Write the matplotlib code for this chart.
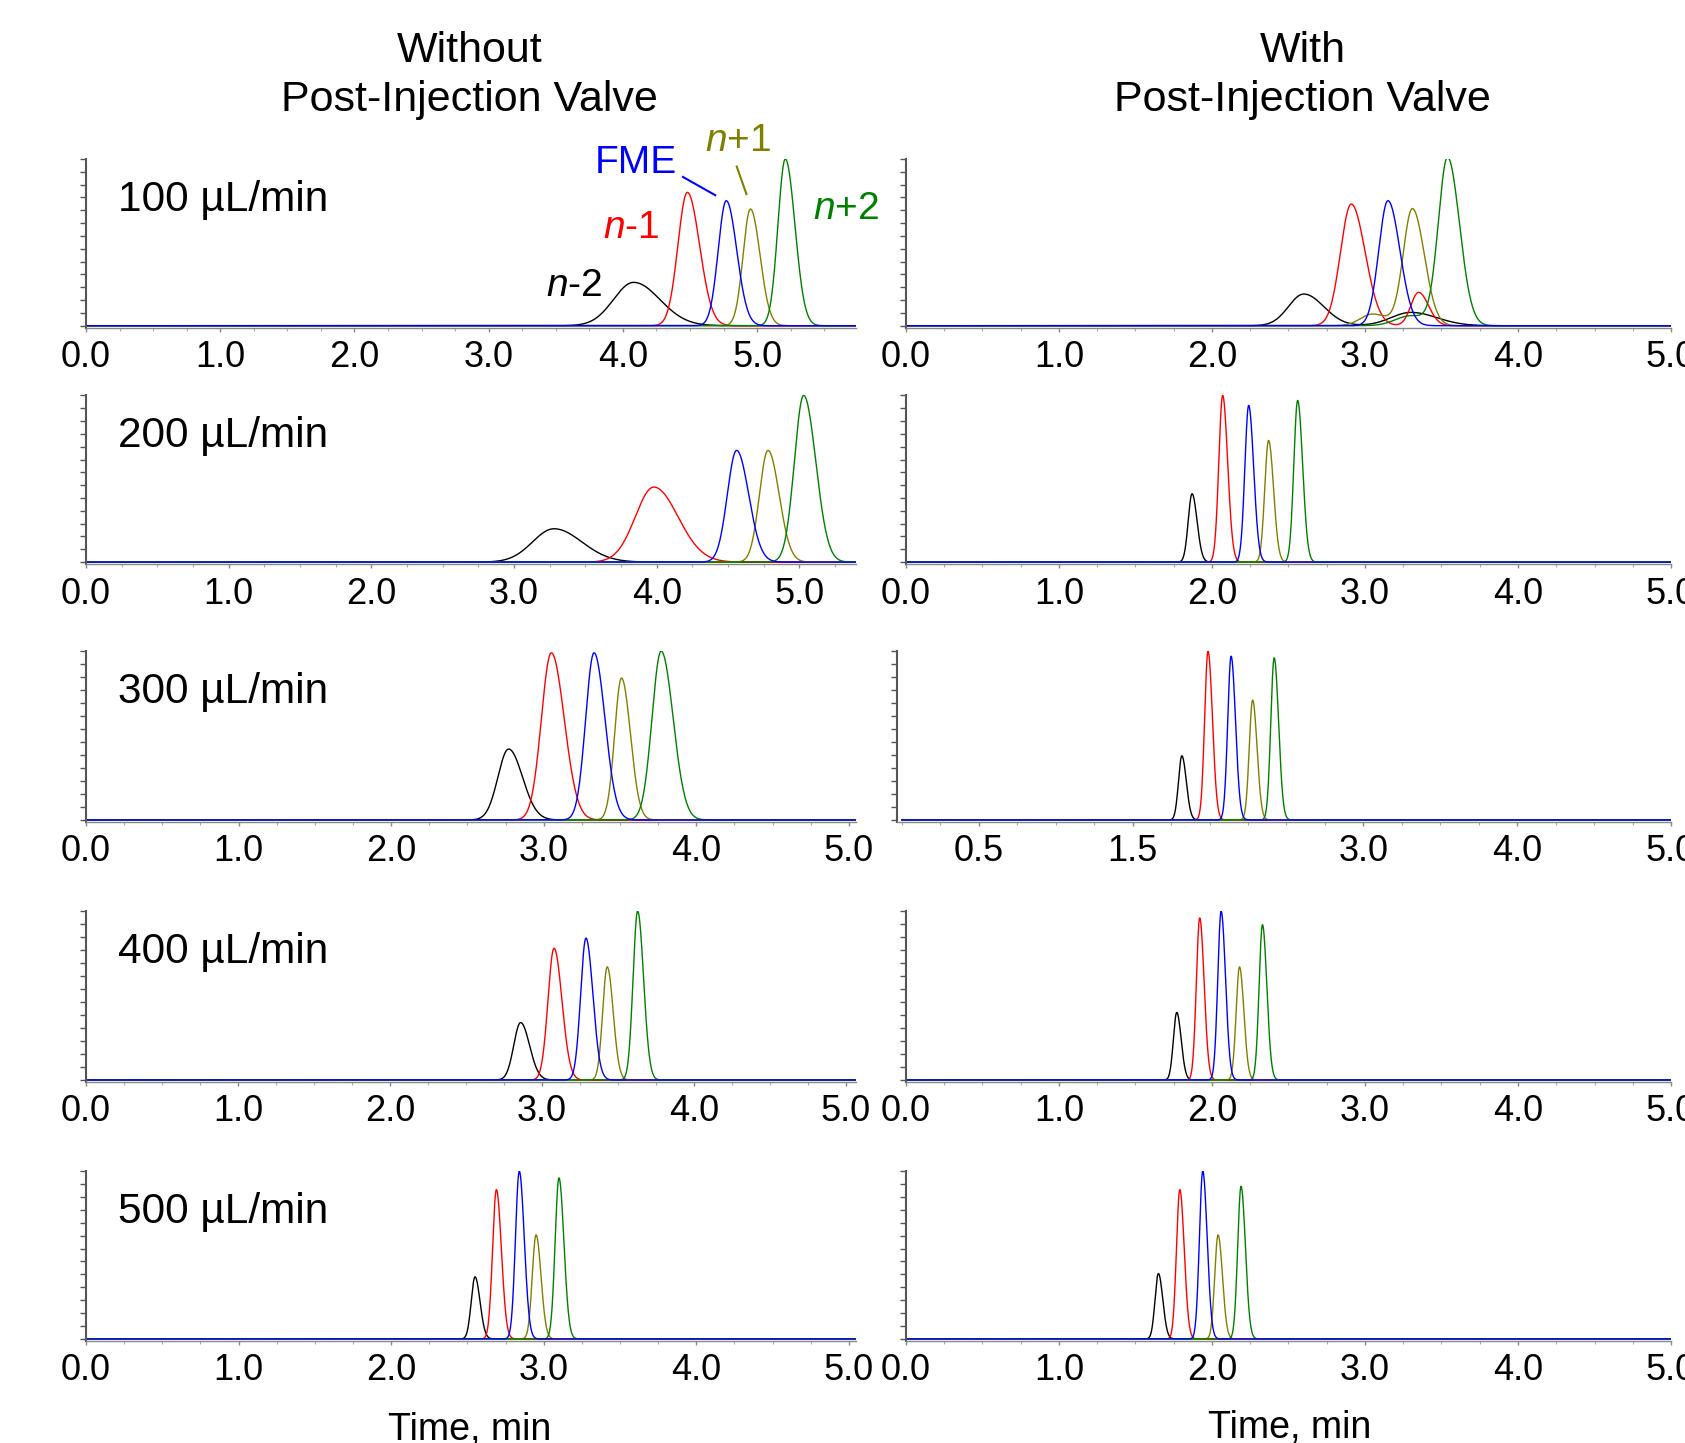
import numpy as np
import matplotlib
matplotlib.use("Agg")
import matplotlib.pyplot as plt

plt.rcParams['font.family'] = ['Liberation Sans', 'DejaVu Sans']
plt.rcParams['mathtext.fontset'] = 'custom'
plt.rcParams['mathtext.rm'] = 'Liberation Sans'
plt.rcParams['mathtext.it'] = 'Liberation Sans:italic'

# species: n-2, n-1, FME, n+1, n+2
colors = ["black", "#ff0000", "#0000ff", "#808000", "#008000"]
draw_order = [0, 1, 3, 4, 2]
flow_labels = ["100 µL/min", "200 µL/min", "300 µL/min", "400 µL/min", "500 µL/min"]

# peak apex time (min), apex height (fraction of full scale), peak sigma (min)
centers_without = [[4.08, 4.48, 4.77, 4.95, 5.21],
                   [3.28, 3.98, 4.56, 4.78, 5.03],
                   [2.77, 3.05, 3.33, 3.51, 3.77],
                   [2.86, 3.08, 3.29, 3.43, 3.63],
                   [2.55, 2.69, 2.84, 2.95, 3.10]]
heights_without = [[0.26, 0.80, 0.75, 0.70, 1.00],
                   [0.20, 0.45, 0.67, 0.67, 1.00],
                   [0.42, 0.99, 0.99, 0.84, 1.00],
                   [0.34, 0.78, 0.84, 0.67, 1.00],
                   [0.37, 0.89, 1.00, 0.62, 0.96]]
widths_without = [[0.15, 0.07, 0.06, 0.055, 0.055],
                  [0.15, 0.13, 0.065, 0.06, 0.065],
                  [0.07, 0.065, 0.055, 0.045, 0.06],
                  [0.045, 0.04, 0.035, 0.03, 0.03],
                  [0.025, 0.025, 0.025, 0.025, 0.025]]

centers_with = [[2.60, 2.91, 3.15, 3.31, 3.54],
                [1.87, 2.07, 2.24, 2.37, 2.56],
                [1.82, 1.99, 2.14, 2.28, 2.42],
                [1.77, 1.92, 2.06, 2.18, 2.33],
                [1.65, 1.79, 1.94, 2.04, 2.19]]
heights_with = [[0.19, 0.73, 0.75, 0.70, 1.00],
                [0.41, 1.00, 0.94, 0.73, 0.97],
                [0.38, 1.00, 0.97, 0.71, 0.96],
                [0.40, 0.96, 1.00, 0.67, 0.92],
                [0.39, 0.89, 1.00, 0.62, 0.91]]
widths_with = [[0.10, 0.07, 0.06, 0.06, 0.06],
               [0.025, 0.025, 0.025, 0.025, 0.025],
               [0.022, 0.022, 0.022, 0.022, 0.022],
               [0.022, 0.022, 0.022, 0.022, 0.022],
               [0.022, 0.022, 0.022, 0.022, 0.022]]

# small secondary humps in the 100 µL/min run with the valve (species, time, height, sigma)
extra_with_100 = [(0, 3.30, 0.08, 0.13), (1, 3.35, 0.20, 0.05), (3, 3.05, 0.07, 0.08),
                  (4, 3.30, 0.06, 0.10)]

xmax_without = [5.74, 5.40, 5.05, 5.07, 5.05]
ticks_without = [0.0, 1.0, 2.0, 3.0, 4.0, 5.0]
ticks_with = [0.0, 1.0, 2.0, 3.0, 4.0, 5.0]
ticks_with_300 = [0.5, 1.5, 3.0, 4.0, 5.0]

fig = plt.figure(figsize=(16.85, 14.43), dpi=100)
W, H = 1568.0, 1343.0
row_px = [(148, 305), (368, 525), (606, 765), (848, 1007), (1090, 1248)]


def peak(t, c, h, s):
    # slightly tailed gaussian
    sig = np.where(t < c, s, s * 1.3)
    return h * np.exp(-0.5 * ((t - c) / sig) ** 2)


def style(ax, xmin, xmax, ticks, labels):
    ax.set_xlim(xmin, xmax)
    ax.set_ylim(-0.012, 1.0)
    for s in ["top", "right"]:
        ax.spines[s].set_visible(False)
    ax.spines["left"].set_color("#555555")
    ax.spines["left"].set_linewidth(1.5)
    ax.spines["bottom"].set_color("#888888")
    ax.spines["bottom"].set_linewidth(1.0)
    ax.set_yticks(np.linspace(0, 1.0, 14))
    ax.set_yticklabels([])
    ax.tick_params(axis="y", length=4, width=1, color="#555555", direction="out")
    ax.set_xticks(ticks)
    ax.set_xticklabels(labels, fontsize=26)
    ax.set_xticks(np.arange(0, xmax, 0.25), minor=True)
    ax.tick_params(axis="x", which="major", length=3, width=1, color="#888888", pad=6)
    ax.tick_params(axis="x", which="minor", length=2, width=0.8, color="#aaaaaa")


for r in range(5):
    top, bot = row_px[r]
    hh = (bot - top) / H
    # without valve
    ax = fig.add_axes([80 / W, 1 - bot / H, 717 / W, hh])
    t = np.linspace(0, xmax_without[r], 3000)
    for i in draw_order:
        y = peak(t, centers_without[r][i], heights_without[r][i], widths_without[r][i])
        ax.plot(t, y, color=colors[i], lw=1.0)
    style(ax, 0, xmax_without[r], ticks_without, ["%.1f" % v for v in ticks_without])
    ax.text(0.042, 0.76, flow_labels[r], transform=ax.transAxes, fontsize=30.5,
            ha="left", va="center")
    if r == 0:
        ax0 = ax

    # with valve
    if r == 2:
        ax = fig.add_axes([835 / W, 1 - bot / H, 720 / W, hh])
        xmin, tk = -0.03, ticks_with_300
    else:
        ax = fig.add_axes([843 / W, 1 - bot / H, 712 / W, hh])
        xmin, tk = 0.0, ticks_with
    t = np.linspace(0, 5.0, 3000)
    for i in draw_order:
        y = peak(t, centers_with[r][i], heights_with[r][i], widths_with[r][i])
        if r == 0:
            for sp, c, h, s in extra_with_100:
                if sp == i:
                    y = y + peak(t, c, h, s)
        ax.plot(t, y, color=colors[i], lw=1.0)
    style(ax, xmin, 5.0, tk, ["%.1f" % v for v in tk])

# peak labels on the first panel
lab_kw = dict(fontsize=28, ha="center", va="center", clip_on=False)
ax0.text(4.10, 0.975, "FME", color=colors[2], **lab_kw)
ax0.text(4.86, 1.11, "$n$+1", color=colors[3], **lab_kw)
ax0.text(4.06, 0.586, "$n$-1", color=colors[1], **lab_kw)
ax0.text(3.64, 0.236, "$n$-2", color=colors[0], **lab_kw)
ax0.text(5.66, 0.70, "$n$+2", color=colors[4], **lab_kw)
ax0.plot([4.448, 4.688], [0.892, 0.783], color=colors[2], lw=1.5, clip_on=False)
ax0.plot([4.848, 4.92], [0.955, 0.79], color=colors[3], lw=1.5, clip_on=False)

fig.text(437 / W, 1 - 70 / H, "Without\nPost-Injection Valve", fontsize=31,
         ha="center", va="center", linespacing=1.3)
fig.text(1212 / W, 1 - 70 / H, "With\nPost-Injection Valve", fontsize=31,
         ha="center", va="center", linespacing=1.3)
fig.text(437 / W, 1 - 1314 / H, "Time, min", fontsize=27, ha="center", va="top")
fig.text(1200 / W, 1 - 1312 / H, "Time, min", fontsize=27, ha="center", va="top")

fig.savefig("out.png", dpi=100)
